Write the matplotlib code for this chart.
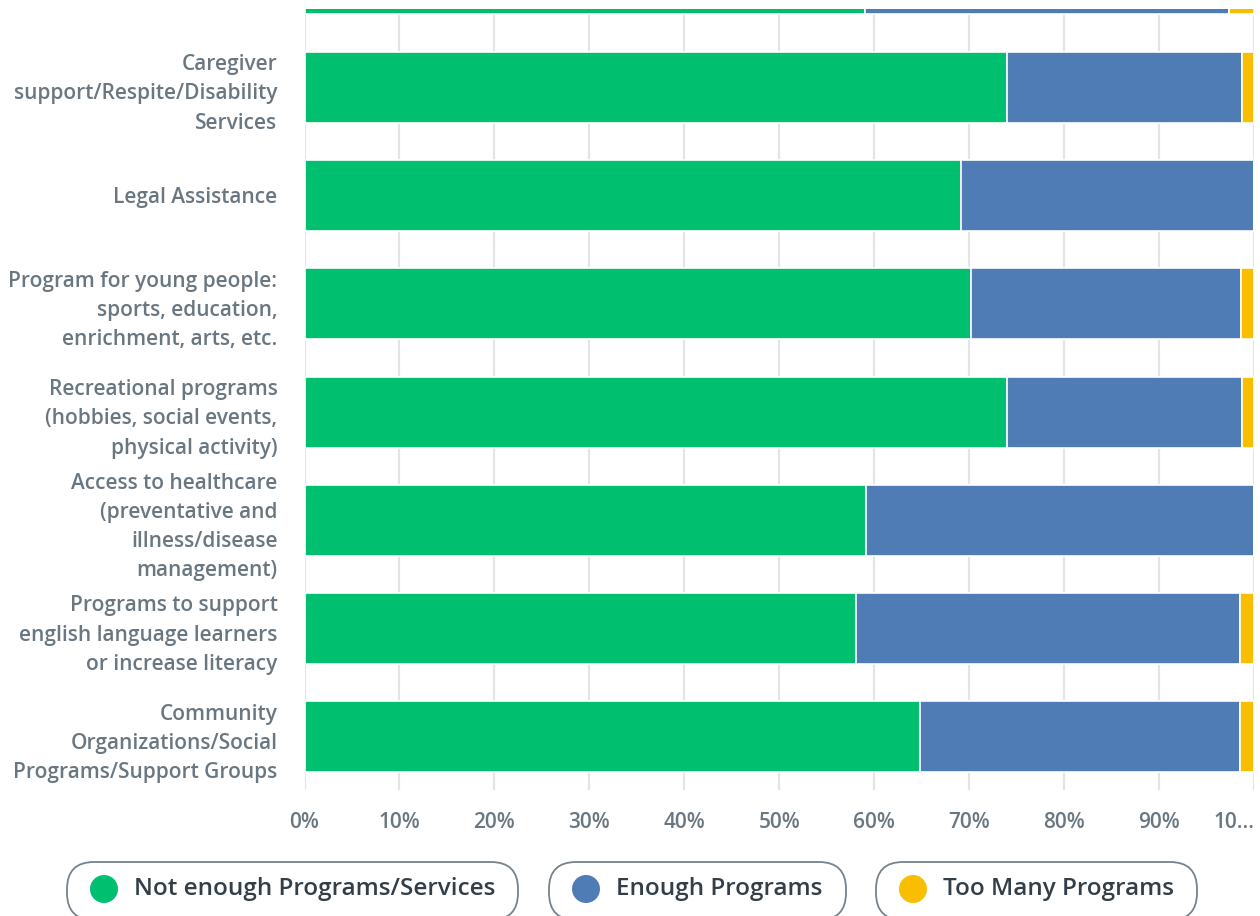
import matplotlib as mpl
mpl.use('Agg')
import matplotlib.pyplot as plt
from matplotlib.patches import FancyBboxPatch, Circle
from matplotlib.transforms import IdentityTransform
import numpy as np

# categories top to bottom (first one is cut off at the top of the view)
categories = [
    '',
    'Caregiver\nsupport/Respite/Disability\nServices',
    'Legal Assistance',
    'Program for young people:\nsports, education,\nenrichment, arts, etc.',
    'Recreational programs\n(hobbies, social events,\nphysical activity)',
    'Access to healthcare\n(preventative and\nillness/disease\nmanagement)',
    'Programs to support\nenglish language learners\nor increase literacy',
    'Community\nOrganizations/Social\nPrograms/Support Groups',
]
not_enough = [59.0, 74.0, 69.1, 70.2, 74.0, 59.1, 58.1, 64.8]
enough = [38.4, 24.7, 30.9, 28.4, 24.7, 40.9, 40.4, 33.7]
too_many = [2.6, 1.3, 0.0, 1.4, 1.3, 0.0, 1.5, 1.5]
series_names = ['Not enough Programs/Services', 'Enough Programs', 'Too Many Programs']
colors = ['#00bf6f', '#507cb6', '#f9be00']
xticks = [0, 10, 20, 30, 40, 50, 60, 70, 80, 90, 100]
xticklabels = ['0%', '10%', '20%', '30%', '40%', '50%', '60%', '70%', '80%', '90%', '10...']

FONT = 'Open Sans'
W, H = 1260, 916
fig = plt.figure(figsize=(W / 100, H / 100), dpi=100)
ax = fig.add_axes([304.5 / W, 126 / H, 949.5 / W, 781 / H])

y = np.arange(len(categories))
left = np.zeros(len(categories))
for vals, c in zip([not_enough, enough, too_many], colors):
    vals = np.array(vals)
    ax.barh(y, vals, left=left, height=0.655, color=c, edgecolor='white',
            linewidth=1.2, zorder=3)
    left += vals

ax.tick_params(axis='x', length=0, pad=16, labelsize=15, labelcolor='#6b7780')
ax.tick_params(axis='y', length=0, pad=19.5, labelsize=15, labelcolor='#6b7780')

ax.set_xlim(0, 100)
ax.set_xticks(xticks)
ax.set_xticklabels(xticklabels)
for t in ax.get_xticklabels():
    t.set_fontfamily(FONT)
    t.set_fontweight(600)
ax.get_xticklabels()[-1].set_horizontalalignment('right')

ax.set_yticks(y)
ax.set_yticklabels(categories)
for t in ax.get_yticklabels():
    t.set_fontfamily(FONT)
    t.set_fontweight(600)
    t.set_linespacing(1.52)
ax.set_ylim(7.49, 0.278)

ax.grid(axis='x', color='#e4e4e4', linewidth=1.6, zorder=0)
for s in ax.spines.values():
    s.set_visible(False)

# legend pills, drawn in pixel coordinates
pix = IdentityTransform()
pills = [(67, 518), (549, 846), (876, 1197)]
for (x0, x1), name, c in zip(pills, series_names, colors):
    box = FancyBboxPatch((x0, -4), x1 - x0, 58,
                         boxstyle='round,pad=0,rounding_size=27',
                         transform=pix, facecolor='white',
                         edgecolor='#77828c', linewidth=1.3)
    fig.add_artist(box)
    fig.add_artist(Circle((x0 + 37, H - 889), 14, transform=pix,
                          facecolor=c, edgecolor='none'))
    fig.text((x0 + 67) / W, (H - 889) / H, name, family=FONT, fontsize=17.5,
             color='#333e48', va='center', ha='left', fontweight=600)

fig.savefig('out.png', dpi=100)
